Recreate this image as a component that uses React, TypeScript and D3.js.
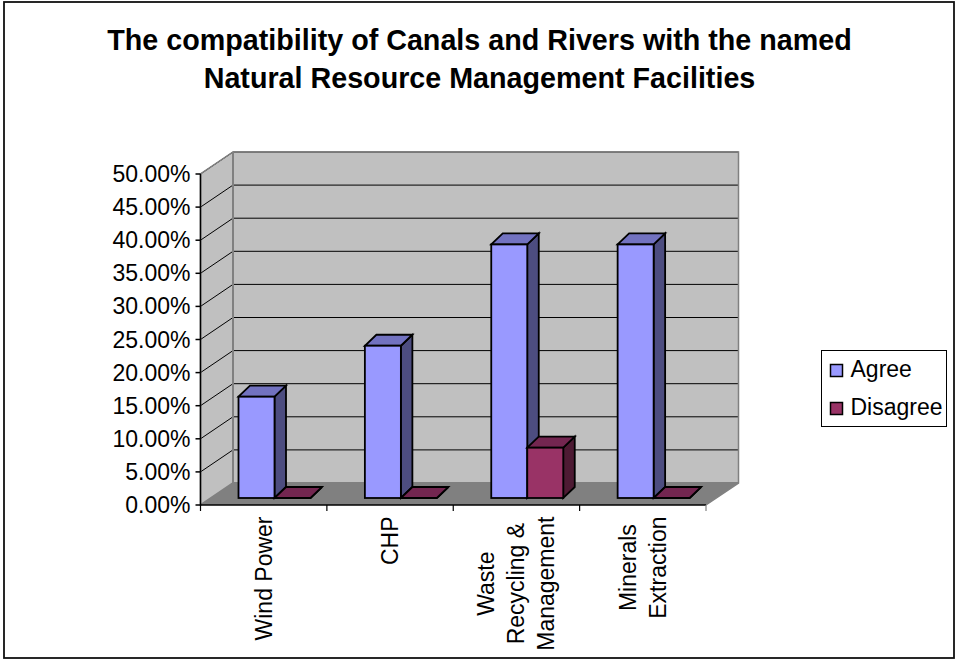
import React from "react";
import * as d3 from "d3";

const titleLines = ["The compatibility of Canals and Rivers with the named", "Natural Resource Management Facilities"];
const categories = ["Wind Power", "CHP", "Waste Recycling & Management", "Minerals Extraction"];
const categoryLines = [["Wind Power"], ["CHP"], ["Waste", "Recycling &", "Management"], ["Minerals", "Extraction"]];
const seriesNames = ["Agree", "Disagree"];
const agree = [15.3, 23, 38.3, 38.3];
const disagree = [0, 0, 7.6, 0];
const yTicks = [0, 5, 10, 15, 20, 25, 30, 35, 40, 45, 50];

const W = 957, H = 662;
const FONT = "'Liberation Sans', Arial, sans-serif";
const front = { x0: 200.5, x1: 706, y0: 505, y1: 174 };
const wallDx = 32.5, wallDy = 22;
const barPlaneDx = 10.2, barPlaneDy = 7;
const barDx = 11.5, barDy = 11;
const LABEL_SIZE = 23;

const x = d3.scaleBand<string>().domain(categories).range([front.x0, front.x1]).paddingInner(0.44).paddingOuter(0.22);
const y = d3.scaleLinear().domain([0, 50]).range([front.y0, front.y1]);
const bw = 36;

const colors = {
  Agree: { front: "#9999ff", top: "#7272c0", side: "#4d4d80" },
  Disagree: { front: "#993366", top: "#732650", side: "#4d1a33" },
};

const poly = (pts: number[][]) => pts.map((p) => p.join(",")).join(" ");

function longestLine(lines: string[]) {
  const ctx = document.createElement("canvas").getContext("2d")!;
  ctx.font = `${LABEL_SIZE}px ${FONT}`;
  return d3.max(lines, (l) => ctx.measureText(l).width) ?? 0;
}

function Bar({ left, value, c }: { left: number; value: number; c: { front: string; top: string; side: string } }) {
  const base = front.y0 - barPlaneDy;
  const top = y(value) - barPlaneDy;
  const l = left + barPlaneDx, r = l + bw;
  const line = { stroke: "#000", strokeWidth: 1.8, strokeLinejoin: "miter" as const };
  return (
    <g>
      <polygon points={poly([[r, top], [r + barDx, top - barDy], [r + barDx, base - barDy], [r, base]])} fill={c.side} {...line} />
      <polygon points={poly([[l, top], [r, top], [r + barDx, top - barDy], [l + barDx, top - barDy]])} fill={c.top} {...line} />
      {value > 0 && <rect x={l} y={top} width={bw} height={base - top} fill={c.front} {...line} />}
    </g>
  );
}

export default function App() {
  const band = x.step();
  const ticksX = d3.range(0, categories.length + 1).map((i) => front.x0 + i * band);
  return (
    <svg width={W} height={H} style={{ position: "absolute", left: 0, top: 0, background: "#fff" }} fontFamily={FONT}>
      <rect x={4} y={2} width={950} height={656} fill="#fff" stroke="#111" strokeWidth={1.8} />
      {titleLines.map((t, i) => (
        <text key={t} x={479.5} y={50 + i * 38} textAnchor="middle" fontSize={28.7} fontWeight="bold" fill="#000">{t}</text>
      ))}
      {/* walls */}
      <polygon points={poly([[front.x0, front.y1], [front.x0 + wallDx, front.y1 - wallDy], [front.x0 + wallDx, front.y0 - wallDy], [front.x0, front.y0]])} fill="#c0c0c0" />
      <rect x={front.x0 + wallDx} y={front.y1 - wallDy} width={front.x1 - front.x0} height={front.y0 - front.y1} fill="#c0c0c0" />
      <polygon points={poly([[front.x0, front.y0], [front.x1, front.y0], [front.x1 + wallDx, front.y0 - wallDy], [front.x0 + wallDx, front.y0 - wallDy]])} fill="#808080" />
      {yTicks.filter((t) => t > 0).map((t) => (
        <path key={t} d={`M${front.x0},${y(t)}L${front.x0 + wallDx},${y(t) - wallDy}H${front.x1 + wallDx}`} fill="none" stroke="#000" strokeWidth={1} />
      ))}
      <path d={`M${front.x0},${front.y0}L${front.x0},${front.y1}L${front.x0 + wallDx},${front.y1 - wallDy}H${front.x1 + wallDx}V${front.y0 - wallDy}L${front.x1},${front.y0}`} fill="none" stroke="#808080" strokeWidth={1.5} />
      <path d={`M${front.x0 + wallDx},${front.y1 - wallDy}V${front.y0 - wallDy}L${front.x0},${front.y0}M${front.x0 + wallDx},${front.y0 - wallDy}H${front.x1 + wallDx}`} fill="none" stroke="#808080" strokeWidth={2} />
      {/* bars */}
      {categories.map((cat, i) => (
        <g key={cat}>
          <Bar left={x(cat)!} value={agree[i]} c={colors.Agree} />
          <Bar left={x(cat)! + bw} value={disagree[i]} c={colors.Disagree} />
        </g>
      ))}
      {/* axes */}
      <path d={`M${front.x0},${front.y1}V${front.y0}H${front.x1}`} fill="none" stroke="#000" strokeWidth={1.5} />
      {yTicks.map((t) => (
        <g key={t}>
          <line x1={front.x0 - 5} x2={front.x0} y1={y(t)} y2={y(t)} stroke="#000" strokeWidth={1.5} />
          <text x={190.5} y={y(t) + 8} textAnchor="end" fontSize={LABEL_SIZE} fill="#000">{t.toFixed(2)}%</text>
        </g>
      ))}
      {ticksX.map((tx) => (
        <line key={tx} x1={tx} x2={tx} y1={front.y0} y2={front.y0 + 6} stroke={tx === front.x1 ? "#808080" : "#000"} strokeWidth={1.2} />
      ))}
      {categories.map((cat, i) => {
        const lines = categoryLines[i];
        const cx = front.x0 + (i + 0.5) * band;
        const cy = 516.5 + longestLine(lines) / 2;
        return lines.map((ln, j) => {
          const px = cx + 8 + (j - (lines.length - 1) / 2) * 30;
          return (
            <text key={ln} transform={`translate(${px},${cy}) rotate(-90)`} textAnchor="middle" fontSize={LABEL_SIZE} fill="#000">{ln}</text>
          );
        });
      })}
      {/* legend */}
      <rect x={821.5} y={350.5} width={125} height={76} fill="#fff" stroke="#000" strokeWidth={1} />
      {seriesNames.map((s, i) => {
        const c = colors[s as keyof typeof colors];
        return (
          <g key={s}>
            <rect x={830.5} y={364.5 + i * 38} width={12} height={12} fill={c.front} stroke="#000" strokeWidth={1.5} />
            <text x={850.5} y={377 + i * 38} fontSize={LABEL_SIZE} fill="#000">{s}</text>
          </g>
        );
      })}
    </svg>
  );
}
